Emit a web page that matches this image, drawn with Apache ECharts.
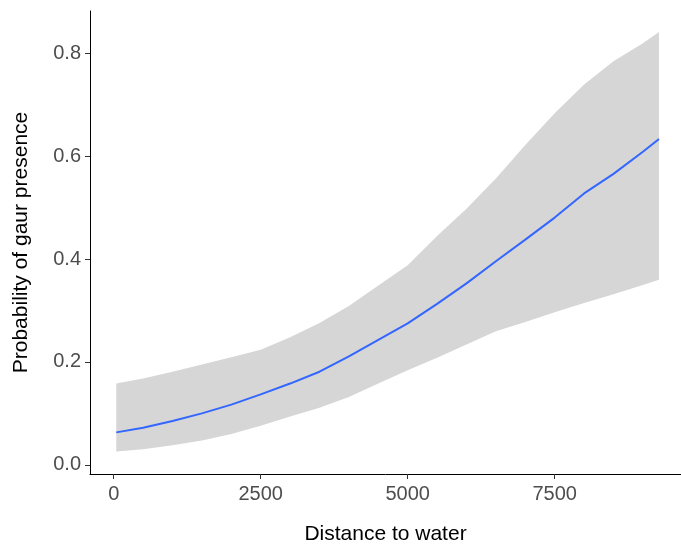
<!DOCTYPE html>
<html>
<head>
<meta charset="utf-8">
<script src="https://cdn.jsdelivr.net/npm/echarts@6/dist/echarts.min.js"></script>
<style>
html,body{margin:0;padding:0;background:#fff;}
#chart{width:681px;height:550px;}
</style>
</head>
<body>
<div id="chart"></div>
<script>
// Distance to water (x) sample points
var distance = [44, 500, 1000, 1500, 2000, 2500, 3000, 3500, 4000, 4500, 5000, 5500, 6000, 6500, 7000, 7500, 8000, 8500, 9000, 9274];
// Fitted probability
var fitted = [0.063, 0.072, 0.085, 0.100, 0.117, 0.137, 0.158, 0.181, 0.211, 0.243, 0.275, 0.313, 0.353, 0.396, 0.438, 0.481, 0.528, 0.566, 0.609, 0.634];
// Confidence band
var lower = [0.026, 0.030, 0.038, 0.047, 0.060, 0.076, 0.094, 0.111, 0.132, 0.158, 0.184, 0.208, 0.234, 0.260, 0.278, 0.297, 0.315, 0.332, 0.350, 0.360];
var upper = [0.158, 0.168, 0.181, 0.195, 0.209, 0.224, 0.248, 0.276, 0.309, 0.349, 0.388, 0.445, 0.498, 0.557, 0.622, 0.684, 0.740, 0.785, 0.820, 0.842];
// Tick values
var xTicks = [0, 2500, 5000, 7500];
var yTicks = [0, 0.2, 0.4, 0.6, 0.8];

var bandData = distance.map(function (d, i) { return [d, lower[i], upper[i]]; });
var lineData = distance.map(function (d, i) { return [d, fitted[i]]; });

var chart = echarts.init(document.getElementById('chart'), null, {renderer: 'canvas'});
var fontFam = '"Liberation Sans", Arial, sans-serif';
chart.setOption({
  animation: false,
  backgroundColor: '#ffffff',
  grid: {left: 90, right: 0, top: 11, bottom: 73, containLabel: false},
  xAxis: {
    type: 'value',
    min: -403, max: 9648,
    name: 'Distance to water',
    nameLocation: 'middle',
    nameGap: 50,
    nameTextStyle: {color: '#000', fontSize: 21, fontFamily: fontFam},
    axisLine: {show: true, onZero: false, lineStyle: {color: '#000', width: 1}},
    axisTick: {show: true, length: 5, lineStyle: {color: '#333', width: 1}, customValues: xTicks},
    axisLabel: {color: '#4d4d4d', fontSize: 20, fontFamily: fontFam, margin: 10, customValues: xTicks,
      formatter: function (v) { return String(v); }},
    splitLine: {show: false}
  },
  yAxis: {
    type: 'value',
    min: -0.018, max: 0.883,
    name: 'Probability of gaur presence',
    nameLocation: 'middle',
    nameGap: 58,
    nameTextStyle: {color: '#000', fontSize: 21, fontFamily: fontFam},
    axisLine: {show: true, onZero: false, lineStyle: {color: '#000', width: 1}},
    axisTick: {show: true, length: 5, lineStyle: {color: '#333', width: 1}, customValues: yTicks},
    axisLabel: {color: '#4d4d4d', fontSize: 20, fontFamily: fontFam, margin: 9, customValues: yTicks,
      formatter: function (v) { return v.toFixed(1); }},
    splitLine: {show: false}
  },
  series: [
    {
      type: 'custom',
      data: bandData,
      encode: {x: 0, y: [1, 2]},
      silent: true,
      z: 1,
      renderItem: function (params, api) {
        if (params.dataIndex !== 0) return null;
        var pts = [];
        for (var i = 0; i < bandData.length; i++) {
          pts.push(api.coord([bandData[i][0], bandData[i][2]]));
        }
        for (var j = bandData.length - 1; j >= 0; j--) {
          pts.push(api.coord([bandData[j][0], bandData[j][1]]));
        }
        return {type: 'polygon', shape: {points: pts}, style: {fill: '#d6d6d6'}};
      }
    },
    {
      type: 'line', data: lineData, symbol: 'none', smooth: false,
      lineStyle: {color: '#3366ff', width: 2}, z: 3
    }
  ]
});
</script>
</body>
</html>
